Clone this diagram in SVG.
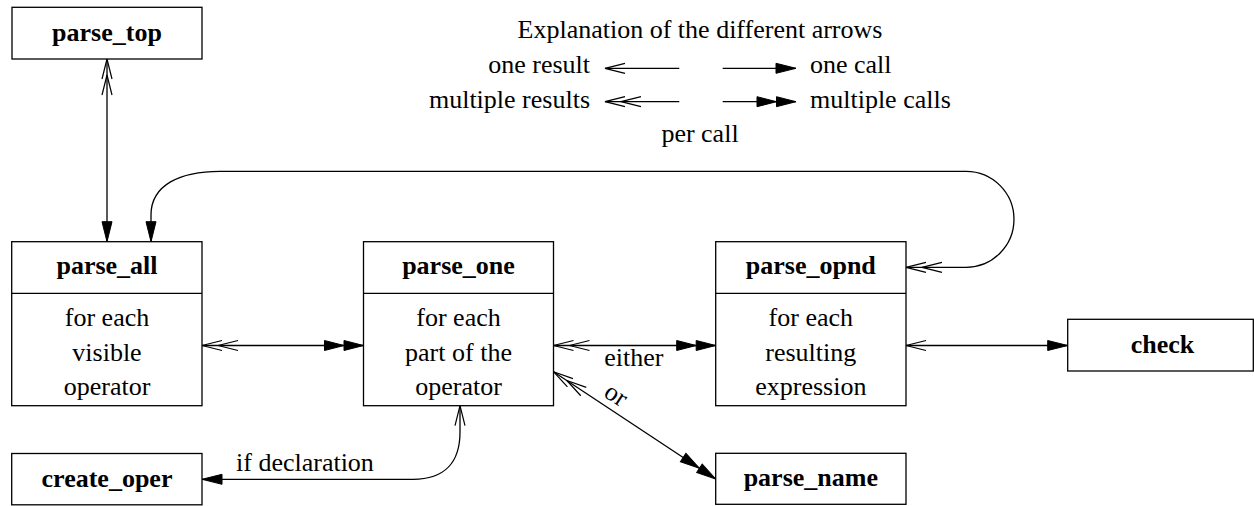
<svg xmlns="http://www.w3.org/2000/svg" width="1254" height="506" viewBox="0 0 1254 506">
<style>
  .box { fill: #fff; stroke: #000; stroke-width: 1.3; }
  .title { font-family: "Liberation Serif", serif; font-weight: bold; font-size: 26px; text-anchor: middle; fill: #000; }
  .body { font-family: "Liberation Serif", serif; font-weight: normal; font-size: 26px; text-anchor: middle; fill: #000; }
  .lbl { font-family: "Liberation Serif", serif; font-weight: normal; font-size: 26px; fill: #000; }
  .edge { fill: none; stroke: #000; stroke-width: 1.3; }
</style>
<defs>
  <marker id="openOne" markerUnits="userSpaceOnUse" markerWidth="24" markerHeight="12" refX="20" refY="0" viewBox="-2 -6 24 12" orient="auto-start-reverse" overflow="visible">
    <path d="M0,-5 L20,0 L0,5" fill="none" stroke="#000" stroke-width="1.2"/>
  </marker>
  <marker id="openTwo" markerUnits="userSpaceOnUse" markerWidth="40" markerHeight="12" refX="20" refY="0" viewBox="-18 -6 40 12" orient="auto-start-reverse" overflow="visible">
    <path d="M0,-5 L20,0 L0,5 M-16,-5 L4,0 L-16,5" fill="none" stroke="#000" stroke-width="1.2"/>
  </marker>
  <marker id="fillOne" markerUnits="userSpaceOnUse" markerWidth="22" markerHeight="12" refX="20" refY="0" viewBox="-1 -6 22 12" orient="auto-start-reverse" overflow="visible">
    <path d="M0,-5 L20,0 L0,5 Z" fill="#000" stroke="#000" stroke-width="1"/>
  </marker>
  <marker id="fillTwo" markerUnits="userSpaceOnUse" markerWidth="42" markerHeight="12" refX="39" refY="0" viewBox="-1 -6 42 12" orient="auto-start-reverse" overflow="visible">
    <path d="M0,-5 L19.5,0 L0,5 Z M19.5,-5 L39,0 L19.5,5 Z" fill="#000" stroke="#000" stroke-width="1"/>
  </marker>
</defs>

<g id="legend">
  <text class="body" x="700" y="38">Explanation of the different arrows</text>
  <text class="lbl" x="590" y="73" text-anchor="end">one result</text>
  <text class="lbl" x="810" y="73">one call</text>
  <text class="lbl" x="590" y="108" text-anchor="end">multiple results</text>
  <text class="lbl" x="810" y="108">multiple calls</text>
  <text class="body" x="700" y="142">per call</text>
  <path class="edge" d="M605,68.3 L679.3,68.3" marker-start="url(#openOne)"/>
  <path class="edge" d="M722.7,68.3 L796,68.3" marker-end="url(#fillOne)"/>
  <path class="edge" d="M605,101.7 L679.3,101.7" marker-start="url(#openTwo)"/>
  <path class="edge" d="M722.7,101.7 L796,101.7" marker-end="url(#fillTwo)"/>
</g>

<g id="connectors">
  <path id="e-top-all" class="edge" d="M107,59 L107,241.7" marker-start="url(#openTwo)" marker-end="url(#fillOne)"/>
  <path id="e-opnd-all" class="edge" d="M906,267.3 L966,267.3 A48,48 0 0 0 966,171.3 L220,171.3 C180,171.3 151,185 151,215 L151,241.7" marker-start="url(#openTwo)" marker-end="url(#fillOne)"/>
  <path id="e-all-one" class="edge" d="M202,345.5 L363.5,345.5" marker-start="url(#openTwo)" marker-end="url(#fillTwo)"/>
  <path id="e-one-opnd" class="edge" d="M553.5,345.5 L715.7,345.5" marker-start="url(#openTwo)" marker-end="url(#fillTwo)"/>
  <text class="lbl" x="604.3" y="366">either</text>
  <path id="e-one-name" class="edge" d="M553.5,371.7 L715.7,479" marker-start="url(#openTwo)" marker-end="url(#fillTwo)"/>
  <text class="body" x="616" y="403" transform="rotate(33.5 616 395)">or</text>
  <path id="e-one-create" class="edge" d="M460,405.7 L460,432 C460,462 445,479.3 413,479.3 L202,479.3" marker-start="url(#openOne)" marker-end="url(#fillOne)"/>
  <text class="lbl" x="236" y="470.7">if declaration</text>
  <path id="e-opnd-check" class="edge" d="M906,345.5 L1067.7,345.5" marker-start="url(#openOne)" marker-end="url(#fillOne)"/>
</g>

<g id="parse_top">
  <rect class="box" x="12" y="7.3" width="190" height="51.7"/>
  <text class="title" x="107" y="41">parse_top</text>
</g>

<g id="parse_all">
  <rect class="box" x="11.7" y="241.7" width="190.3" height="164"/>
  <line class="edge" x1="11.7" y1="293.3" x2="202" y2="293.3"/>
  <text class="title" x="107" y="274">parse_all</text>
  <text class="body" x="107" y="326">for each</text>
  <text class="body" x="107" y="360.5">visible</text>
  <text class="body" x="107" y="395">operator</text>
</g>

<g id="parse_one">
  <rect class="box" x="363.5" y="241.7" width="190" height="164"/>
  <line class="edge" x1="363.5" y1="293.3" x2="553.5" y2="293.3"/>
  <text class="title" x="458.5" y="274">parse_one</text>
  <text class="body" x="458.5" y="326">for each</text>
  <text class="body" x="458.5" y="360.5">part of the</text>
  <text class="body" x="458.5" y="395">operator</text>
</g>

<g id="parse_opnd">
  <rect class="box" x="715.7" y="241.7" width="190.3" height="164"/>
  <line class="edge" x1="715.7" y1="293.3" x2="906" y2="293.3"/>
  <text class="title" x="810.8" y="274">parse_opnd</text>
  <text class="body" x="810.8" y="326">for each</text>
  <text class="body" x="810.8" y="360.5">resulting</text>
  <text class="body" x="810.8" y="395">expression</text>
</g>

<g id="check">
  <rect class="box" x="1067.7" y="319.3" width="185.6" height="51.7"/>
  <text class="title" x="1162.5" y="352.5">check</text>
</g>

<g id="create_oper">
  <rect class="box" x="11.7" y="453.5" width="190.3" height="51.3"/>
  <text class="title" x="107" y="486.5">create_oper</text>
</g>

<g id="parse_name">
  <rect class="box" x="715.7" y="453.3" width="190.3" height="51"/>
  <text class="title" x="810.8" y="486.3">parse_name</text>
</g>
</svg>
